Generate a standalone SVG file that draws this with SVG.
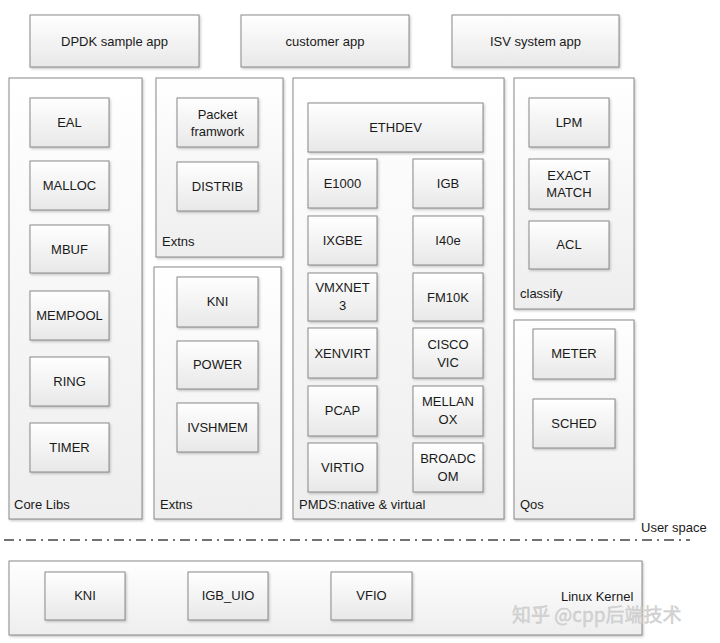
<svg xmlns="http://www.w3.org/2000/svg" width="720" height="643" viewBox="0 0 720 643">
<defs>
<linearGradient id="gBox" x1="0" y1="0" x2="0" y2="1">
<stop offset="0" stop-color="#ffffff"/>
<stop offset="1" stop-color="#e8e8e8"/>
</linearGradient>
<linearGradient id="gCont" x1="0" y1="0" x2="0" y2="1">
<stop offset="0" stop-color="#ffffff"/>
<stop offset="1" stop-color="#eeeeee"/>
</linearGradient>
<filter id="sh" x="-10%" y="-10%" width="130%" height="130%">
<feDropShadow dx="1.2" dy="1.5" stdDeviation="0.8" flood-color="#888" flood-opacity="0.45"/>
</filter>
<style>
.box{fill:url(#gBox);stroke:#8a8a8a;stroke-width:1;filter:url(#sh)}
.cont{fill:url(#gCont);stroke:#8a8a8a;stroke-width:1;filter:url(#sh)}
text{font-family:"Liberation Sans",Arial,sans-serif;font-size:13px;fill:#1a1a1a}
.c{text-anchor:middle}
.sep{stroke:#444;stroke-width:1.3;fill:none;stroke-dasharray:10 5 2 5}
.wm{font-family:"Noto Sans CJK SC","Noto Sans",sans-serif;font-size:19px;fill:#d4d4d4;stroke:#c8c8c8;stroke-width:0.4}
</style>
</defs>
<rect width="720" height="643" fill="#ffffff"/>

<g id="app-dpdk"><rect class="box" x="30" y="15" width="169" height="52"/><text class="c" x="114.5" y="46">DPDK sample app</text></g>
<g id="app-customer"><rect class="box" x="241" y="15" width="168" height="52"/><text class="c" x="325" y="46">customer app</text></g>
<g id="app-isv"><rect class="box" x="452" y="15" width="167" height="52"/><text class="c" x="535.5" y="46">ISV system app</text></g>

<g id="corelibs">
<rect class="cont" x="9" y="78" width="133" height="441"/>
<text x="14" y="509">Core Libs</text>
</g>
<g id="eal"><rect class="box" x="30" y="98" width="79" height="49"/><text class="c" x="69.5" y="127">EAL</text></g>
<g id="malloc"><rect class="box" x="30" y="161" width="79" height="49"/><text class="c" x="69.5" y="190">MALLOC</text></g>
<g id="mbuf"><rect class="box" x="30" y="225" width="79" height="48"/><text class="c" x="69.5" y="253.5">MBUF</text></g>
<g id="mempool"><rect class="box" x="30" y="291" width="79" height="49"/><text class="c" x="69.5" y="320">MEMPOOL</text></g>
<g id="ring"><rect class="box" x="30" y="357" width="79" height="49"/><text class="c" x="69.5" y="386">RING</text></g>
<g id="timer"><rect class="box" x="30" y="423" width="79" height="49"/><text class="c" x="69.5" y="452">TIMER</text></g>

<g id="extns1">
<rect class="cont" x="156" y="78" width="127" height="179"/>
<text x="162" y="246">Extns</text>
</g>
<g id="packet"><rect class="box" x="177" y="98" width="81" height="49"/><text class="c" x="217.5" y="119">Packet</text><text class="c" x="217.5" y="136">framwork</text></g>
<g id="distrib"><rect class="box" x="177" y="162" width="81" height="49"/><text class="c" x="217.5" y="191">DISTRIB</text></g>

<g id="extns2">
<rect class="cont" x="154" y="267" width="127" height="252"/>
<text x="160" y="509">Extns</text>
</g>
<g id="kni"><rect class="box" x="177" y="277" width="81" height="50"/><text class="c" x="217.5" y="306">KNI</text></g>
<g id="power"><rect class="box" x="177" y="341" width="81" height="48"/><text class="c" x="217.5" y="369">POWER</text></g>
<g id="ivshmem"><rect class="box" x="177" y="403" width="81" height="49"/><text class="c" x="217.5" y="432">IVSHMEM</text></g>

<g id="pmds">
<rect class="cont" x="293" y="78" width="211" height="441"/>
<text x="299" y="509">PMDS:native &amp; virtual</text>
</g>
<g id="ethdev"><rect class="box" x="308" y="103" width="175" height="49"/><text class="c" x="395.5" y="132">ETHDEV</text></g>
<g id="e1000"><rect class="box" x="308" y="159" width="69" height="49"/><text class="c" x="342.5" y="188">E1000</text></g>
<g id="igb"><rect class="box" x="413" y="159" width="70" height="49"/><text class="c" x="448" y="188">IGB</text></g>
<g id="ixgbe"><rect class="box" x="308" y="216" width="69" height="49"/><text class="c" x="342.5" y="245">IXGBE</text></g>
<g id="i40e"><rect class="box" x="413" y="216" width="70" height="49"/><text class="c" x="448" y="245">I40e</text></g>
<g id="vmxnet3"><rect class="box" x="308" y="273" width="69" height="48"/><text class="c" x="342.5" y="292">VMXNET</text><text class="c" x="342.5" y="310">3</text></g>
<g id="fm10k"><rect class="box" x="413" y="273" width="70" height="48"/><text class="c" x="448" y="301.5">FM10K</text></g>
<g id="xenvirt"><rect class="box" x="308" y="328" width="69" height="50"/><text class="c" x="342.5" y="357.5">XENVIRT</text></g>
<g id="ciscovic"><rect class="box" x="413" y="328" width="70" height="50"/><text class="c" x="448" y="349">CISCO</text><text class="c" x="448" y="367">VIC</text></g>
<g id="pcap"><rect class="box" x="308" y="386" width="69" height="50"/><text class="c" x="342.5" y="415">PCAP</text></g>
<g id="mellanox"><rect class="box" x="413" y="386" width="70" height="50"/><text class="c" x="448" y="406">MELLAN</text><text class="c" x="448" y="424">OX</text></g>
<g id="virtio"><rect class="box" x="308" y="443" width="69" height="49"/><text class="c" x="342.5" y="472">VIRTIO</text></g>
<g id="broadcom"><rect class="box" x="413" y="443" width="70" height="49"/><text class="c" x="448" y="463">BROADC</text><text class="c" x="448" y="481">OM</text></g>

<g id="classify">
<rect class="cont" x="514" y="78" width="120" height="231"/>
<text x="520" y="298">classify</text>
</g>
<g id="lpm"><rect class="box" x="529" y="98" width="80" height="49"/><text class="c" x="569" y="127">LPM</text></g>
<g id="exactmatch"><rect class="box" x="529" y="159" width="80" height="50"/><text class="c" x="569" y="180">EXACT</text><text class="c" x="569" y="197">MATCH</text></g>
<g id="acl"><rect class="box" x="529" y="221" width="80" height="48"/><text class="c" x="569" y="249">ACL</text></g>

<g id="qos">
<rect class="cont" x="514" y="320" width="120" height="199"/>
<text x="520" y="509">Qos</text>
</g>
<g id="meter"><rect class="box" x="533" y="329" width="82" height="50"/><text class="c" x="574" y="358">METER</text></g>
<g id="sched"><rect class="box" x="533" y="399" width="82" height="49"/><text class="c" x="574" y="428">SCHED</text></g>

<text x="641" y="532">User space</text>
<g id="connectors">
<line class="sep" x1="4" y1="540" x2="690" y2="540"/>
</g>

<g id="linuxkernel">
<rect class="cont" x="9" y="561" width="633" height="74"/>
<text x="561" y="601">Linux Kernel</text>
</g>
<g id="kkni"><rect class="box" x="45" y="572" width="80" height="48"/><text class="c" x="85" y="600">KNI</text></g>
<g id="igbuio"><rect class="box" x="188" y="572" width="80" height="48"/><text class="c" x="228" y="600">IGB_UIO</text></g>
<g id="vfio"><rect class="box" x="331" y="572" width="81" height="48"/><text class="c" x="371.5" y="600">VFIO</text></g>

<text class="wm" x="512" y="622">知乎 @cpp后端技术</text>
</svg>
